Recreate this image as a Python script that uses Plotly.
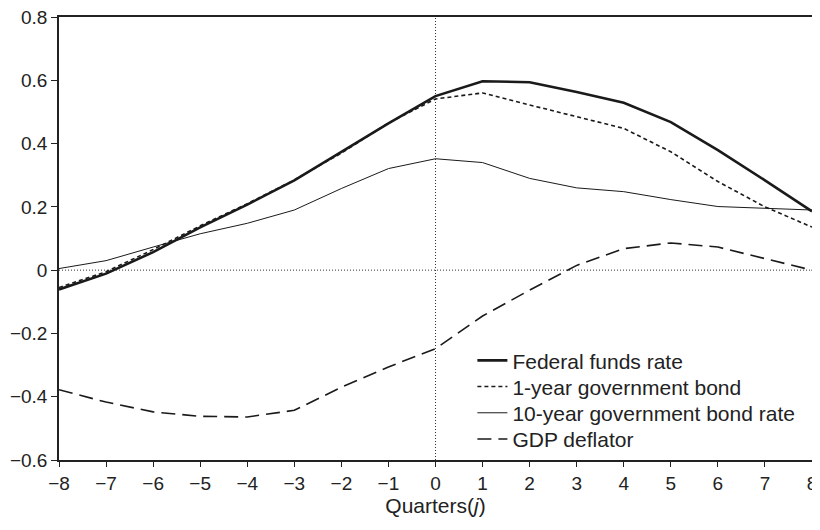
import plotly.graph_objects as go

quarters = list(range(-8, 9))
fed_funds = [-0.061, -0.011, 0.057, 0.135, 0.207, 0.284, 0.374, 0.464, 0.55, 0.597, 0.594, 0.563, 0.529, 0.468, 0.379, 0.284, 0.186]
one_year = [-0.055, -0.005, 0.065, 0.14, 0.21, 0.285, 0.37, 0.465, 0.541, 0.56, 0.522, 0.485, 0.448, 0.374, 0.28, 0.20, 0.136]
ten_year = [0.005, 0.030, 0.073, 0.115, 0.148, 0.19, 0.258, 0.321, 0.352, 0.34, 0.29, 0.26, 0.248, 0.223, 0.201, 0.195, 0.19]
gdp_deflator = [-0.378, -0.417, -0.448, -0.462, -0.464, -0.443, -0.37, -0.306, -0.248, -0.145, -0.063, 0.015, 0.068, 0.086, 0.073, 0.037, 0.0]

names = ["Federal funds rate", "1-year government bond", "10-year government bond rate", "GDP deflator"]

fig = go.Figure()
fig.add_trace(go.Scatter(x=quarters, y=fed_funds, mode="lines", name=names[0],
                         line=dict(color="#1a1a1a", width=2.6), legend="legend"))
fig.add_trace(go.Scatter(x=quarters, y=one_year, mode="lines", name=names[1],
                         line=dict(color="#1a1a1a", width=1.6, dash="4px,3px"), legend="legend2"))
fig.add_trace(go.Scatter(x=quarters, y=ten_year, mode="lines", name=names[2],
                         line=dict(color="#1a1a1a", width=1.0), legend="legend3"))
fig.add_trace(go.Scatter(x=quarters, y=gdp_deflator, mode="lines", name=names[3],
                         line=dict(color="#1a1a1a", width=1.6, dash="14px,7px"), legend="legend4"))

fig.add_shape(type="line", xref="x", yref="y", x0=-8, x1=8, y0=0, y1=0,
              line=dict(color="#333", width=1, dash="1px,2px"), layer="below")
fig.add_shape(type="line", xref="x", yref="y", x0=0, x1=0, y0=-0.6, y1=0.8,
              line=dict(color="#333", width=1, dash="1px,2px"), layer="below")


def legend_at(ytop):
    return dict(x=0.549, y=ytop, xanchor="left", yanchor="top",
                bgcolor="rgba(0,0,0,0)", font=dict(size=21, color="#222"))


# The page body has an 8px margin, so the figure is sized/offset to compensate.
font = dict(family="Liberation Sans, Arial, sans-serif", size=19, color="#222")
fig.update_layout(
    width=812, height=522,
    margin=dict(l=51, r=8, t=9, b=70),
    paper_bgcolor="white", plot_bgcolor="white",
    font=font,
    showlegend=True,
    legend=legend_at(0.2704),
    legend2=legend_at(0.2113),
    legend3=legend_at(0.1521),
    legend4=legend_at(0.0930),
    xaxis=dict(range=[-8, 8], tickmode="array", tickvals=quarters,
               ticks="outside", ticklen=5, tickcolor="#222", tickwidth=1,
               showline=True, linecolor="#222", linewidth=1.5, mirror=True,
               showgrid=False, zeroline=False, automargin=False,
               ticklabeloverflow="allow",
               title=dict(text="Quarters(<i>j</i>)", standoff=0, font=dict(size=21, color="#222"))),
    yaxis=dict(range=[-0.6, 0.8], tickmode="array",
               tickvals=[-0.6, -0.4, -0.2, 0, 0.2, 0.4, 0.6, 0.8],
               ticktext=["\u22120.6", "\u22120.4", "\u22120.2", "0", "0.2", "0.4", "0.6", "0.8"],
               ticks="outside", ticklen=6, tickcolor="#222", tickwidth=1,
               showline=True, linecolor="#222", linewidth=1.5, mirror=True,
               showgrid=False, zeroline=False, automargin=False,
               ticklabeloverflow="allow"),
)

fig.write_html("out.html")
